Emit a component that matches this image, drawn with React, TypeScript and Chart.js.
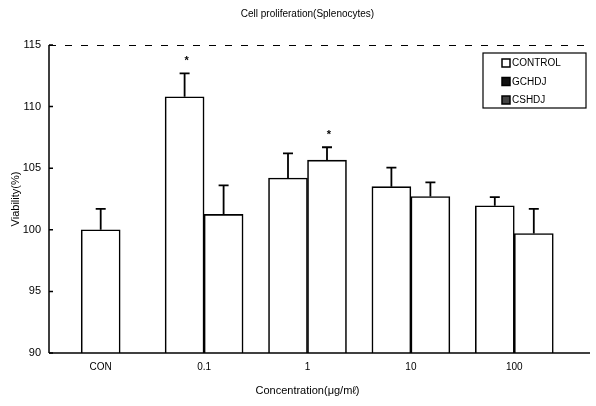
import React, { useEffect, useRef } from "react";
import { Chart, registerables } from "chart.js";

Chart.register(...registerables);

const categories = ["CON", "0.1", "1", "10", "100"];
const controlValues = [100.0, null, null, null, null];
const controlErrors = [1.7, null, null, null, null];
const gchdjValues = [null, 110.8, 104.2, 103.5, 101.95];
const gchdjErrors = [null, 1.9, 2.0, 1.55, 0.7];
const cshdjValues = [null, 101.25, 105.65, 102.7, 99.7];
const cshdjErrors = [null, 2.35, 1.05, 1.15, 2.0];
const gchdjStars = [false, true, false, false, false];
const cshdjStars = [false, false, true, false, false];
const yTicks = [90, 95, 100, 105, 110, 115];

const FONT = "'Liberation Sans', Arial, sans-serif";

const errorPlugin = {
  id: "errorBars",
  afterDatasetsDraw(chart: any) {
    const { ctx } = chart;
    const y = chart.scales.y;
    chart.data.datasets.forEach((ds: any, di: number) => {
      const meta = chart.getDatasetMeta(di);
      ds.values.forEach((v: any, i: number) => {
        if (v === null) return;
        const bar = meta.data[i];
        const err = ds.errors[i];
        const top = y.getPixelForValue(v);
        const ey = y.getPixelForValue(v + err);
        ctx.save();
        ctx.strokeStyle = "#000";
        ctx.lineWidth = 1.8;
        ctx.beginPath();
        ctx.moveTo(bar.x, top);
        ctx.lineTo(bar.x, ey);
        ctx.moveTo(bar.x - 5, ey);
        ctx.lineTo(bar.x + 5, ey);
        ctx.stroke();
        if (ds.stars && ds.stars[i]) {
          ctx.fillStyle = "#000";
          ctx.font = `bold 11px ${FONT}`;
          ctx.textAlign = "center";
          ctx.textBaseline = "middle";
          ctx.fillText("*", bar.x + 2, ey - 12);
        }
        ctx.restore();
      });
    });
  },
};

const framePlugin = {
  id: "frame",
  afterDraw(chart: any) {
    const { ctx, chartArea } = chart;
    const y = chart.scales.y;
    ctx.save();
    ctx.strokeStyle = "#000";
    // top dashed line
    ctx.lineWidth = 1;
    ctx.setLineDash([7, 9]);
    ctx.beginPath();
    ctx.moveTo(chartArea.left, chartArea.top + 0.5);
    ctx.lineTo(590, chartArea.top + 0.5);
    ctx.stroke();
    ctx.setLineDash([]);
    // bottom line
    ctx.lineWidth = 1.5;
    ctx.beginPath();
    ctx.moveTo(chartArea.left, chartArea.bottom);
    ctx.lineTo(590, chartArea.bottom);
    ctx.stroke();
    // left axis + inward ticks
    ctx.beginPath();
    ctx.moveTo(chartArea.left, chartArea.top);
    ctx.lineTo(chartArea.left, chartArea.bottom);
    yTicks.forEach((t) => {
      const py = y.getPixelForValue(t);
      ctx.moveTo(chartArea.left, py);
      ctx.lineTo(chartArea.left + 4, py);
    });
    ctx.stroke();
    // legend box
    const bx = 483, by = 53, bw = 103, bh = 55;
    ctx.lineWidth = 1.2;
    ctx.strokeRect(bx, by, bw, bh);
    const fills = ["#ffffff", "#111111", "#444444"];
    ctx.font = `10px ${FONT}`;
    ctx.textBaseline = "middle";
    ctx.textAlign = "left";
    chart.data.datasets.forEach((ds: any, i: number) => {
      const cy = 63 + i * 18.5;
      ctx.fillStyle = fills[i];
      ctx.fillRect(502, cy - 4, 8, 8);
      ctx.lineWidth = 1.5;
      ctx.strokeRect(502, cy - 4, 8, 8);
      ctx.fillStyle = "#000";
      ctx.fillText(ds.label, 512, cy + 0.5);
    });
    ctx.restore();
  },
};

export default function App() {
  const ref = useRef<HTMLCanvasElement>(null);
  useEffect(() => {
    const mk = (label: string, values: any[], errors: any[], stars: any[]) => ({
      label,
      data: values,
      values,
      errors,
      stars,
      backgroundColor: "#ffffff",
      borderColor: "#000000",
      borderWidth: 1.6,
      barThickness: 39,
      borderSkipped: "bottom",
    });
    const chart = new Chart(ref.current!, {
      type: "bar",
      data: {
        labels: categories,
        datasets: [
          mk("CONTROL", controlValues, controlErrors, [false, false, false, false, false]),
          mk("GCHDJ", gchdjValues, gchdjErrors, gchdjStars),
          mk("CSHDJ", cshdjValues, cshdjErrors, cshdjStars),
        ] as any,
      },
      options: {
        animation: false,
        responsive: false,
        skipNull: true,
        layout: { padding: { left: 0, right: 30, top: 0, bottom: 0 } },
        plugins: {
          legend: { display: false },
          tooltip: { enabled: false },
          title: {
            display: true,
            text: "Cell proliferation(Splenocytes)",
            color: "#000",
            fullSize: false,
            font: { family: FONT, size: 10, weight: "normal" },
            padding: { top: 8, bottom: 25 },
          },
        },
        scales: {
          x: {
            type: "category",
            grid: { display: false, drawTicks: false },
            border: { display: false },
            ticks: { color: "#000", font: { family: FONT, size: 10 }, padding: 8 },
            title: {
              display: true,
              text: "Concentration(μg/mℓ)",
              color: "#000",
              font: { family: FONT, size: 11 },
              padding: { top: 4, bottom: 8 },
            },
            afterFit: (s: any) => {
              s.height = 53;
            },
          },
          y: {
            min: 90,
            max: 115,
            afterBuildTicks: (s: any) => {
              s.ticks = yTicks.map((v) => ({ value: v }));
            },
            grid: { display: false, drawTicks: false },
            border: { display: false },
            ticks: { color: "#000", font: { family: FONT, size: 11 }, padding: 8 },
            title: {
              display: true,
              text: "Viability(%)",
              color: "#000",
              font: { family: FONT, size: 11 },
              padding: { top: 9, bottom: 4 },
            },
            afterFit: (s: any) => {
              s.width = 49;
            },
          },
        },
      } as any,
      plugins: [errorPlugin, framePlugin],
    });
    return () => chart.destroy();
  }, []);
  return (
    <div style={{ position: "absolute", left: 0, top: 0, width: 596, height: 406, background: "#fff" }}>
      <canvas ref={ref} width={596} height={406} style={{ width: 596, height: 406 }} />
    </div>
  );
}
